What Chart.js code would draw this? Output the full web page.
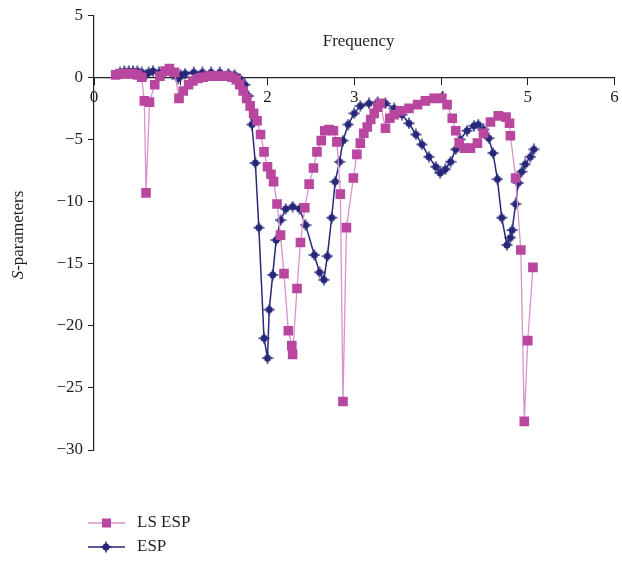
<!DOCTYPE html>
<html lang="en">
<head>
    <style>
        body {
            margin: 0;
            background-color: #fff;
        }
    </style>
</head>
<body>

<canvas id="sparamChart" width="622" height="564"></canvas>

<script src="https://cdn.jsdelivr.net/npm/chart.js"></script>
<script>
    // LS ESP measurement
    const lsFreq = [0.25, 0.30, 0.35, 0.40, 0.45, 0.50, 0.55, 0.58, 0.60, 0.64, 0.70, 0.76, 0.82, 0.87, 0.93, 0.98,
        1.03, 1.09, 1.14, 1.20, 1.26, 1.32, 1.38, 1.44, 1.50, 1.55, 1.59, 1.64, 1.68, 1.72, 1.76, 1.80, 1.84, 1.88,
        1.92, 1.96, 2.00, 2.04, 2.07, 2.11, 2.15, 2.19, 2.24, 2.28, 2.29, 2.34, 2.38, 2.43, 2.48, 2.53, 2.57, 2.62,
        2.66, 2.71, 2.76, 2.80, 2.84, 2.87, 2.91, 2.99, 3.03, 3.07, 3.11, 3.15, 3.19, 3.23, 3.27, 3.30, 3.36, 3.41,
        3.46, 3.53, 3.63, 3.73, 3.82, 3.92, 4.01, 4.07, 4.13, 4.17, 4.21, 4.27, 4.34, 4.42, 4.49, 4.57, 4.66, 4.75,
        4.79, 4.80, 4.86, 4.92, 4.96, 5.00, 5.06];
    const lsVal = [0.2, 0.3, 0.3, 0.3, 0.3, 0.2, 0.0, -1.9, -9.3, -2.0, -0.6, 0.1, 0.5, 0.7, 0.4, -1.7,
        -1.1, -0.6, -0.3, -0.1, 0.0, 0.1, 0.1, 0.1, 0.1, 0.1, 0.0, -0.2, -0.6, -1.1, -1.7, -2.3, -2.9, -3.5,
        -4.6, -6.0, -7.2, -7.8, -8.4, -10.2, -12.7, -15.8, -20.4, -21.6, -22.3, -17.0, -13.3, -10.5, -8.6, -7.3, -6.0, -5.1,
        -4.3, -4.2, -4.3, -5.2, -9.4, -26.1, -12.1, -8.1, -6.2, -5.3, -4.5, -4.0, -3.4, -2.9, -2.4, -2.1, -4.1, -3.3,
        -3.0, -2.7, -2.5, -2.2, -1.9, -1.7, -1.7, -2.2, -3.3, -4.3, -5.3, -5.7, -5.7, -5.3, -4.5, -3.6, -3.1, -3.2,
        -3.7, -4.7, -8.1, -13.9, -27.7, -21.2, -15.3];

    // ESP measurement
    const espFreq = [0.30, 0.35, 0.40, 0.45, 0.50, 0.55, 0.60, 0.63, 0.68, 0.75, 0.80, 0.90, 0.97, 1.00, 1.05, 1.15,
        1.25, 1.35, 1.45, 1.55, 1.62, 1.68, 1.74, 1.78, 1.82, 1.86, 1.90, 1.96, 2.00, 2.02, 2.06, 2.10, 2.15, 2.21,
        2.29, 2.37, 2.44, 2.54, 2.60, 2.65, 2.69, 2.74, 2.78, 2.83, 2.87, 2.93, 3.00, 3.07, 3.17, 3.27, 3.36, 3.46,
        3.55, 3.63, 3.71, 3.78, 3.86, 3.94, 3.99, 4.05, 4.11, 4.17, 4.22, 4.30, 4.38, 4.43, 4.49, 4.55, 4.60, 4.65,
        4.70, 4.76, 4.80, 4.82, 4.86, 4.89, 4.93, 4.97, 5.03, 5.07];
    const espVal = [0.4, 0.5, 0.5, 0.5, 0.5, 0.4, 0.2, 0.4, 0.5, 0.4, 0.3, 0.3, -0.1, 0.2, 0.3, 0.4,
        0.4, 0.4, 0.4, 0.3, 0.2, -0.1, -0.6, -1.5, -3.8, -6.9, -12.1, -21.0, -22.6, -18.7, -15.9, -13.1, -11.5, -10.6,
        -10.4, -10.6, -11.9, -14.3, -15.7, -16.3, -14.4, -11.3, -8.4, -6.8, -5.1, -3.8, -2.9, -2.3, -2.1, -2.0, -2.1, -2.5,
        -3.0, -3.7, -4.6, -5.4, -6.4, -7.2, -7.7, -7.4, -6.8, -5.8, -5.0, -4.3, -3.9, -3.8, -4.2, -4.9, -6.1, -8.2,
        -11.3, -13.5, -12.9, -12.3, -10.2, -8.5, -7.6, -7.0, -6.4, -5.8];

    const xTicks = [0, 1, 2, 3, 4, 5, 6];
    const yTicks = [5, 0, -5, -10, -15, -20, -25, -30];

    const FONT = "'Liberation Serif', 'DejaVu Serif', serif";
    const MAGENTA = '#b9479f';
    const MAGENTA_LINE = '#da92cb';
    const NAVY = '#27287a';

    // round dot with a small cross through it, used as the ESP marker
    function makeEspMarker() {
        const c = document.createElement('canvas');
        c.width = 12;
        c.height = 12;
        const g = c.getContext('2d');
        g.fillStyle = NAVY;
        g.strokeStyle = NAVY;
        g.lineWidth = 1.5;
        g.beginPath();
        g.arc(6, 6, 3.5, 0, Math.PI * 2);
        g.fill();
        g.beginPath();
        g.moveTo(6, 0.5); g.lineTo(6, 11.5);
        g.moveTo(0.5, 6); g.lineTo(11.5, 6);
        g.stroke();
        return c;
    }
    const espMarker = makeEspMarker();

    function zip(xs, ys) {
        return xs.map((x, i) => ({ x: x, y: ys[i] }));
    }

    // titles and legend drawn straight on the canvas
    const textPlugin = {
        id: 'textPlugin',
        afterDraw(chart) {
            const ctx = chart.ctx;
            const xs = chart.scales.x;
            ctx.save();
            ctx.fillStyle = '#231f20';
            ctx.font = '17px ' + FONT;
            ctx.textBaseline = 'middle';
            ctx.textAlign = 'center';
            ctx.fillText('Frequency', xs.getPixelForValue(3.05), 42);

            // rotated y title with italic S
            ctx.translate(19, 235);
            ctx.rotate(-Math.PI / 2);
            ctx.font = 'italic 17px ' + FONT;
            const sW = ctx.measureText('S').width;
            ctx.font = '17px ' + FONT;
            const restW = ctx.measureText('-parameters').width;
            const startX = -(sW + restW) / 2;
            ctx.textAlign = 'left';
            ctx.font = 'italic 17px ' + FONT;
            ctx.fillText('S', startX, 0);
            ctx.font = '17px ' + FONT;
            ctx.fillText('-parameters', startX + sW, 0);
            ctx.restore();

            // legend
            ctx.save();
            ctx.font = '17px ' + FONT;
            ctx.textBaseline = 'middle';
            chart.data.datasets.forEach((ds, i) => {
                const y = 523 + i * 24;
                ctx.strokeStyle = ds.borderColor;
                ctx.lineWidth = 1.6;
                ctx.beginPath();
                ctx.moveTo(88, y);
                ctx.lineTo(125, y);
                ctx.stroke();
                if (ds.pointStyle === 'rect') {
                    ctx.fillStyle = ds.pointBackgroundColor;
                    ctx.fillRect(102, y - 4.5, 9, 9);
                } else {
                    ctx.drawImage(ds.pointStyle, 100, y - 6);
                }
                ctx.fillStyle = '#231f20';
                ctx.fillText(ds.label, 137, y);
            });
            ctx.restore();
        }
    };

    const minusSign = v => String(v).replace('-', '\u2212');

    new Chart(document.getElementById('sparamChart'), {
        type: 'scatter',
        data: {
            datasets: [
                {
                    label: 'LS ESP',
                    data: zip(lsFreq, lsVal),
                    showLine: true,
                    borderColor: MAGENTA_LINE,
                    borderWidth: 1.3,
                    pointStyle: 'rect',
                    pointRadius: 6.8,
                    pointBackgroundColor: MAGENTA,
                    pointBorderColor: MAGENTA,
                    pointBorderWidth: 0,
                    tension: 0
                },
                {
                    label: 'ESP',
                    data: zip(espFreq, espVal),
                    showLine: true,
                    borderColor: NAVY,
                    borderWidth: 1.5,
                    pointStyle: espMarker,
                    pointRadius: 6,
                    tension: 0
                }
            ]
        },
        options: {
            responsive: false,
            animation: false,
            layout: {
                padding: { top: 14, right: 2, bottom: 114, left: 0 }
            },
            plugins: {
                legend: { display: false },
                tooltip: { enabled: false }
            },
            scales: {
                x: {
                    type: 'linear',
                    position: { y: 0 },
                    min: 0,
                    max: 6,
                    afterBuildTicks: axis => {
                        axis.ticks = xTicks.map(v => ({ value: v }));
                    },
                    grid: {
                        drawOnChartArea: false,
                        color: '#231f20',
                        tickLength: 7
                    },
                    border: { color: '#231f20', width: 1.2 },
                    ticks: {
                        color: '#231f20',
                        font: { family: FONT, size: 17 },
                        padding: 3,
                        maxRotation: 0
                    }
                },
                y: {
                    min: -30,
                    max: 5,
                    afterBuildTicks: axis => {
                        axis.ticks = yTicks.map(v => ({ value: v }));
                    },
                    afterFit: axis => {
                        axis.width = 94;
                    },
                    grid: {
                        drawOnChartArea: false,
                        color: '#231f20',
                        tickLength: 6
                    },
                    border: { color: '#231f20', width: 1.2 },
                    ticks: {
                        color: '#231f20',
                        font: { family: FONT, size: 17 },
                        padding: 5,
                        callback: v => minusSign(v)
                    }
                }
            }
        },
        plugins: [textPlugin]
    });
</script>

</body>
</html>
